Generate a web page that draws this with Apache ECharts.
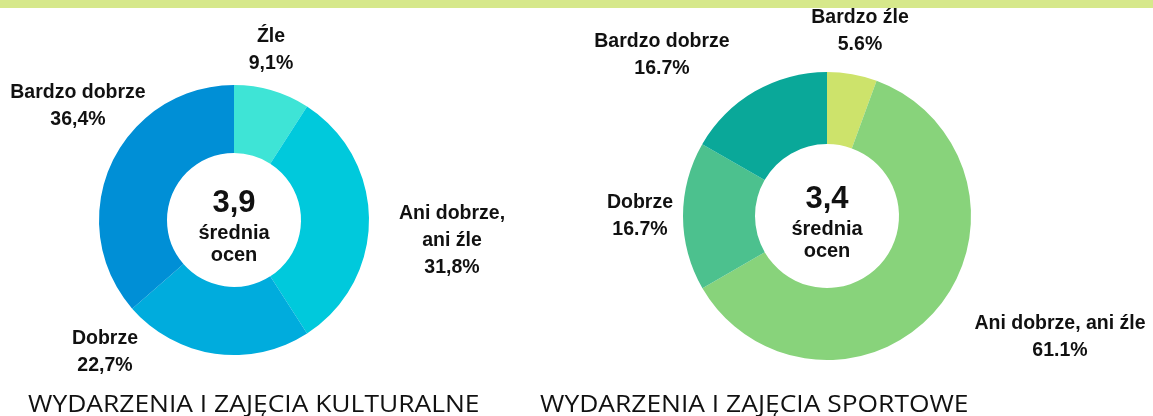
<!DOCTYPE html>
<html>
<head>
<meta charset="utf-8">
<script src="https://cdn.jsdelivr.net/npm/echarts@6/dist/echarts.min.js"></script>
<style>
html,body{margin:0;padding:0;background:#fff;}
#chart{width:1153px;height:416px;}
</style>
</head>
<body>
<div id="chart"></div>
<script>
// dane - wydarzenia kulturalne
var cultNames = ['Źle', 'Ani dobrze,\nani źle', 'Dobrze', 'Bardzo dobrze'];
var cultValues = [9.1, 31.8, 22.7, 36.4];
var cultColors = ['#3ee4d6', '#00c9dc', '#00acdd', '#008fd6'];
// dane - wydarzenia sportowe
var sportNames = ['Bardzo źle', 'Ani dobrze, ani źle', 'Dobrze', 'Bardzo dobrze'];
var sportValues = [5.6, 61.1, 16.7, 16.7];
var sportColors = ['#cde36b', '#88d37b', '#4cc18e', '#0aa899'];
var averages = ['3,9', '3,4'];
var titles = ['WYDARZENIA I ZAJĘCIA KULTURALNE', 'WYDARZENIA I ZAJĘCIA SPORTOWE'];

// pozycje etykiet (srodek bloku tekstu)
var cultLabelPos = [[271, 50], [452, 241], [105, 352], [78, 106]];
var sportLabelPos = [[860, 31], [1060, 337], [640, 216], [662, 55]];

var labelFont = 'Liberation Sans, Arial, sans-serif';
var titleFont = '24px "Open Sans", "DejaVu Sans", sans-serif';

function buildData(names, values, colors){
    var arr = [];
    for(var i=0;i<names.length;i++){
        arr.push({name: names[i], value: values[i], itemStyle: {color: colors[i]}});
    }
    return arr;
}

function pieSeries(names, values, colors, center, radius, pos, sep){
    return {
        type: 'pie',
        center: center,
        radius: radius,
        startAngle: 90,
        clockwise: true,
        silent: true,
        animation: false,
        data: buildData(names, values, colors),
        label: {
            show: true,
            position: 'inside',
            overflow: 'none',
            formatter: function(p){
                return p.name + '\n' + p.value.toFixed(1).replace('.', sep) + '%';
            },
            color: '#111',
            fontFamily: labelFont,
            fontWeight: 'bold',
            fontSize: 19.5,
            lineHeight: 27,
            align: 'center'
        },
        labelLine: {show: false},
        labelLayout: function(params){
            var p = pos[params.dataIndex];
            return {x: p[0], y: p[1], align: 'center', verticalAlign: 'middle'};
        }
    };
}

function centerText(x, y, avg){
    return [
        {type: 'text', x: x, y: y - 17, style: {text: avg, fill: '#111', font: 'bold 31px ' + labelFont, textAlign: 'center', textVerticalAlign: 'middle'}},
        {type: 'text', x: x, y: y + 13, style: {text: 'średnia', fill: '#111', font: 'bold 20px ' + labelFont, textAlign: 'center', textVerticalAlign: 'middle'}},
        {type: 'text', x: x, y: y + 35, style: {text: 'ocen', fill: '#111', font: 'bold 20px ' + labelFont, textAlign: 'center', textVerticalAlign: 'middle'}}
    ];
}

var chart = echarts.init(document.getElementById('chart'), null, {renderer: 'canvas'});
var graphics = [
    {type: 'rect', shape: {x: 0, y: 0, width: 1153, height: 8}, style: {fill: '#d6e88b'}},
    {type: 'text', x: 28, y: 405, scaleX: 1.1, style: {text: titles[0], fill: '#111', font: titleFont, textAlign: 'left', textVerticalAlign: 'middle'}},
    {type: 'text', x: 540, y: 405, scaleX: 1.1, style: {text: titles[1], fill: '#111', font: titleFont, textAlign: 'left', textVerticalAlign: 'middle'}}
].concat(centerText(234, 220, averages[0])).concat(centerText(827, 216, averages[1]));

var option = {
    backgroundColor: '#fff',
    animation: false,
    graphic: graphics,
    series: [
        pieSeries(cultNames, cultValues, cultColors, [234, 220], [67, 135], cultLabelPos, ','),
        pieSeries(sportNames, sportValues, sportColors, [827, 216], [72, 144], sportLabelPos, '.')
    ]
};
chart.setOption(option);
</script>
</body>
</html>
